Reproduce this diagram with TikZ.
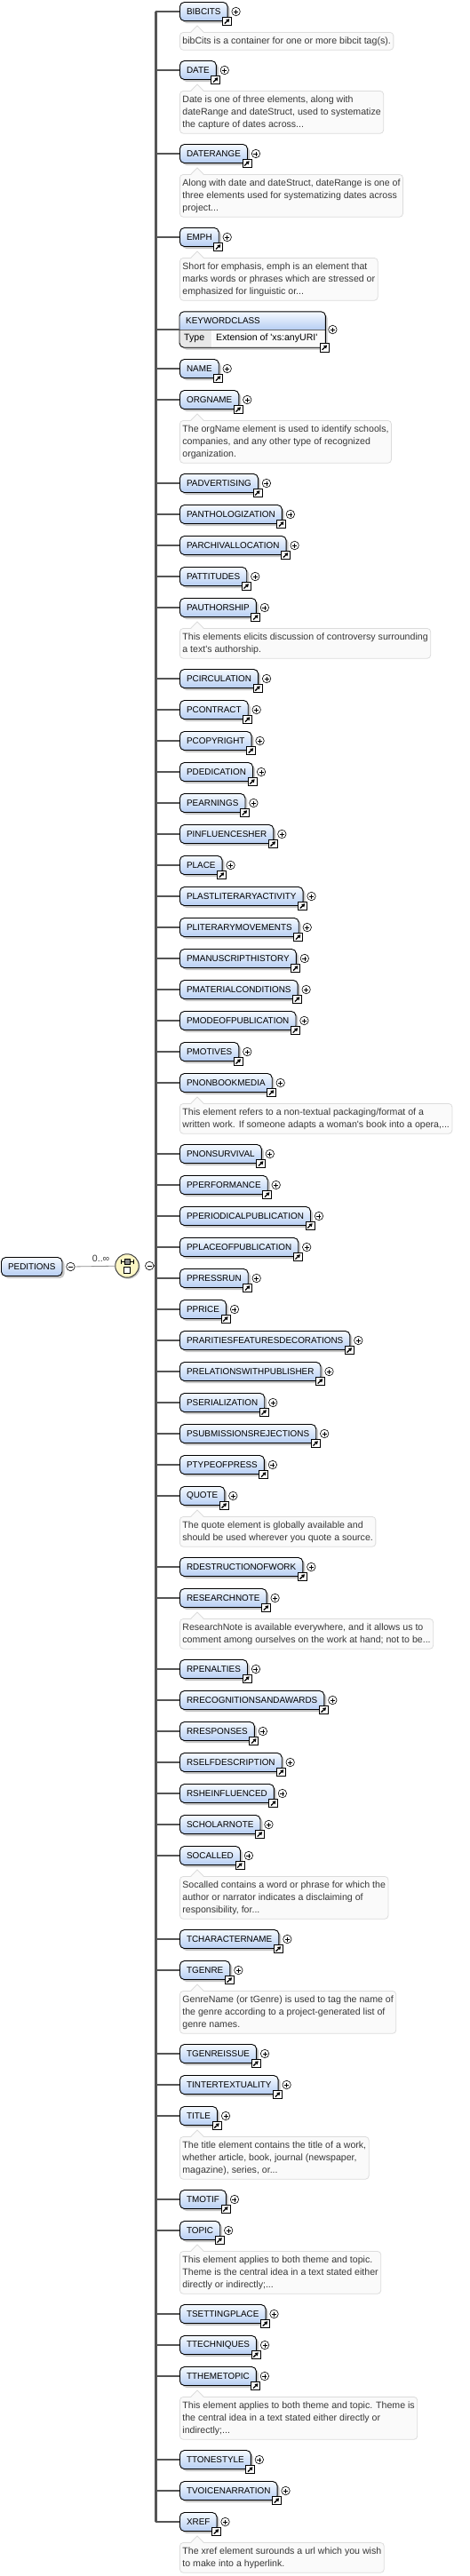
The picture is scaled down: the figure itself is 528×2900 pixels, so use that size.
\documentclass[tikz,border=0pt]{standalone}
\usepackage{fontspec}
\newfontfamily\lsans{Liberation Sans}
\usetikzlibrary{calc,shadows,arrows.meta}
\definecolor{eltop}{RGB}{246,250,255}
\definecolor{elbot}{RGB}{182,206,243}
\definecolor{annfill}{RGB}{250,250,250}
\definecolor{annline}{RGB}{220,220,220}
\definecolor{anntext}{RGB}{55,55,55}
\definecolor{barc}{RGB}{85,85,85}
\definecolor{seqfill}{RGB}{252,246,196}
\definecolor{typefill}{RGB}{232,232,232}
\newcommand\xEl[3]{%
  \node[elem] (#1) at (202,#2) {#3};
  \node[plusc] (#1p) at ($(#1.east)+(9,0)$) {};
  \node[sc] (#1s) at ($(#1.south east)+(-1,0)$) {};
  \draw[branch] (#1.west -| bartop) -- (#1.west);
}
\newcommand\xAnn[3]{%
  \node[ann] (#1a) at (202,#2+23) {#3};
  \fill[annfill] ($(#1a.north west)+(13,0.9)$) -- ($(#1a.north west)+(20,-7)$) -- ($(#1a.north west)+(27,0.9)$) -- cycle;
  \draw[annline,line width=0.8pt] ($(#1a.north west)+(13,0)$) -- ($(#1a.north west)+(20,-7)$) -- ($(#1a.north west)+(27,0)$);
}
\begin{document}
\begin{tikzpicture}[x=1pt,y=-1pt,
  elem/.style={draw=black, line width=0.9pt, rounded corners=5pt, top color=eltop, bottom color=elbot,
    minimum height=21pt, inner xsep=7.6pt, inner ysep=0pt, anchor=west,
    font=\lsans\fontsize{9.9}{12}\selectfont,
    drop shadow={shadow xshift=2.5pt, shadow yshift=-2.5pt, fill=black!22, opacity=1}},
  plusc/.style={circle, draw=black, line width=0.6pt, fill=white, minimum size=9.5pt, inner sep=0pt,
    path picture={\draw[line width=0.6pt] ($(path picture bounding box.center)+(-2.5pt,0pt)$) -- ($(path picture bounding box.center)+(2.5pt,0pt)$) ($(path picture bounding box.center)+(0pt,-2.5pt)$) -- ($(path picture bounding box.center)+(0pt,2.5pt)$);}},
  minusc/.style={circle, draw=black, line width=0.6pt, fill=white, minimum size=9.5pt, inner sep=0pt,
    path picture={\draw[line width=0.6pt] ($(path picture bounding box.center)+(-2.5pt,0pt)$) -- ($(path picture bounding box.center)+(2.5pt,0pt)$);}},
  sc/.style={draw=black, line width=0.8pt, fill=white, minimum width=10pt, minimum height=9.5pt, inner sep=0pt,
    path picture={\draw[line width=1.3pt, -{Triangle[length=3.5pt,width=4.2pt]}] ($(path picture bounding box.center)+(-2.8pt,-2.6pt)$) -- ($(path picture bounding box.center)+(2.7pt,2.7pt)$);}},
  branch/.style={draw=barc, line width=2pt},
  bar/.style={draw=barc, line width=3pt},
  ann/.style={draw=annline, line width=0.8pt, fill=annfill, rounded corners=4pt, anchor=north west, align=left,
    inner xsep=3pt, inner ysep=5pt, text=anntext, font=\lsans\fontsize{10.6}{14}\selectfont},
  lbl/.style={font=\lsans\fontsize{10.6}{12}\selectfont, text=anntext, inner sep=0pt},
]
\useasboundingbox (0,0) rectangle (528,2900);
\coordinate (bartop) at (175,13);
\coordinate (barbot) at (175,2839);

% root element and sequence
\node[elem] (ped) at (1,1426) {PEDITIONS};
\node[minusc] (pedm) at ($(ped.east)+(9,0)$) {};
\node[circle, draw=black!75, line width=1pt, fill=seqfill, minimum size=26.5pt, inner sep=0pt,
  drop shadow={shadow xshift=1.5pt, shadow yshift=-1.5pt, fill=black!20, opacity=1}] (seq) at (143,1425) {};
\draw[draw=black!45, line width=0.8pt] (pedm) -- (seq) node[lbl, pos=0.65, above=4pt] {0..∞};
\draw[line width=0.8pt] ($(seq.center)+(-7,-5)$) -- ($(seq.center)+(7,-5)$);
\draw[line width=0.8pt] ($(seq.center)+(-7,-7.5)$) -- ($(seq.center)+(-7,-2.5)$);
\draw[line width=0.8pt] ($(seq.center)+(7,-7.5)$) -- ($(seq.center)+(7,-2.5)$);
\filldraw[fill=black!45, draw=black, line width=0.6pt] ($(seq.center)+(-3,-8)$) rectangle ($(seq.center)+(3,-2)$);
\filldraw[fill=white, draw=black, line width=0.6pt] ($(seq.center)+(-3.5,1)$) rectangle ($(seq.center)+(3.5,8)$);
\node[minusc] (seqm) at ($(seq.east)+(11.5,0)$) {};
\draw[branch] (seqm) -- (seqm -| bartop);

\draw[bar] (bartop) -- (barbot);

\xEl{e1}{13}{BIBCITS}
\xAnn{e1}{13}{bibCits is a container for one or more bibcit tag(s).}
\xEl{e2}{79}{DATE}
\xAnn{e2}{79}{Date is one of three elements, along with\\dateRange and dateStruct, used to systematize\\the capture of dates across...}
\xEl{e3}{173}{DATERANGE}
\xAnn{e3}{173}{Along with date and dateStruct, dateRange is one of\\three elements used for systematizing dates across\\project...}
\xEl{e4}{267}{EMPH}
\xAnn{e4}{267}{Short for emphasis, emph is an element that\\marks words or phrases which are stressed or\\emphasized for linguistic or...}

% KEYWORDCLASS complex box
\node[minimum width=164pt, minimum height=40pt, anchor=west, inner sep=0pt, rounded corners=5pt, fill=white,
  drop shadow={shadow xshift=2.5pt, shadow yshift=-2.5pt, fill=black!22, opacity=1}] (kw) at (202,371) {};
\begin{scope}
  \clip[rounded corners=5pt] (kw.south west) rectangle (kw.north east);
  \shade[top color=eltop, bottom color=elbot] (kw.north west) rectangle (kw.east);
  \fill[typefill] (kw.west) rectangle ($(kw.south west)+(36,0)$);
  \fill[annfill] ($(kw.west)+(36,0)$) rectangle (kw.south east);
\end{scope}
\draw[line width=0.8pt, black!60] (kw.west) -- (kw.east);
\draw[line width=0.8pt, white] ($(kw.west)+(36,0.5)$) -- ($(kw.south west)+(36,-0.5)$);
\draw[line width=0.9pt, rounded corners=5pt] (kw.south west) rectangle (kw.north east);
\node[anchor=west, inner sep=0pt, font=\lsans\fontsize{9.9}{12}\selectfont] (kwt) at ($(kw.west)+(7,-10)$) {KEYWORDCLASS};
\node[anchor=west, inner sep=0pt, font=\lsans\fontsize{10.6}{12}\selectfont] (kwty) at ($(kw.west)+(5,10)$) {Type};
\node[anchor=west, inner sep=0pt, font=\lsans\fontsize{10.6}{12}\selectfont] (kwex) at ($(kw.west)+(41,10)$) {Extension of 'xs:anyURI'};
\node[plusc] (kwp) at ($(kw.east)+(8,0)$) {};
\node[sc] (kws) at ($(kw.south east)+(-1,0)$) {};
\draw[branch] (kw.west -| bartop) -- (kw.west);

\xEl{e6}{415}{NAME}
\xEl{e7}{450}{ORGNAME}
\xAnn{e7}{450}{The orgName element is used to identify schools,\\companies, and any other type of recognized\\organization.}
\xEl{e8}{544}{PADVERTISING}
\xEl{e9}{579}{PANTHOLOGIZATION}
\xEl{e10}{614}{PARCHIVALLOCATION}
\xEl{e11}{649}{PATTITUDES}
\xEl{e12}{684}{PAUTHORSHIP}
\xAnn{e12}{684}{This elements elicits discussion of controversy surrounding\\a text's authorship.}
\xEl{e13}{764}{PCIRCULATION}
\xEl{e14}{799}{PCONTRACT}
\xEl{e15}{834}{PCOPYRIGHT}
\xEl{e16}{869}{PDEDICATION}
\xEl{e17}{904}{PEARNINGS}
\xEl{e18}{939}{PINFLUENCESHER}
\xEl{e19}{974}{PLACE}
\xEl{e20}{1009}{PLASTLITERARYACTIVITY}
\xEl{e21}{1044}{PLITERARYMOVEMENTS}
\xEl{e22}{1079}{PMANUSCRIPTHISTORY}
\xEl{e23}{1114}{PMATERIALCONDITIONS}
\xEl{e24}{1149}{PMODEOFPUBLICATION}
\xEl{e25}{1184}{PMOTIVES}
\xEl{e26}{1219}{PNONBOOKMEDIA}
\xAnn{e26}{1219}{This element refers to a non-textual packaging/format of a\\written work. If someone adapts a woman's book into a opera,...}
\xEl{e27}{1299}{PNONSURVIVAL}
\xEl{e28}{1334}{PPERFORMANCE}
\xEl{e29}{1369}{PPERIODICALPUBLICATION}
\xEl{e30}{1404}{PPLACEOFPUBLICATION}
\xEl{e31}{1439}{PPRESSRUN}
\xEl{e32}{1474}{PPRICE}
\xEl{e33}{1509}{PRARITIESFEATURESDECORATIONS}
\xEl{e34}{1544}{PRELATIONSWITHPUBLISHER}
\xEl{e35}{1579}{PSERIALIZATION}
\xEl{e36}{1614}{PSUBMISSIONSREJECTIONS}
\xEl{e37}{1649}{PTYPEOFPRESS}
\xEl{e38}{1684}{QUOTE}
\xAnn{e38}{1684}{The quote element is globally available and\\should be used wherever you quote a source.}
\xEl{e39}{1764}{RDESTRUCTIONOFWORK}
\xEl{e40}{1799}{RESEARCHNOTE}
\xAnn{e40}{1799}{ResearchNote is available everywhere, and it allows us to\\comment among ourselves on the work at hand; not to be...}
\xEl{e41}{1879}{RPENALTIES}
\xEl{e42}{1914}{RRECOGNITIONSANDAWARDS}
\xEl{e43}{1949}{RRESPONSES}
\xEl{e44}{1984}{RSELFDESCRIPTION}
\xEl{e45}{2019}{RSHEINFLUENCED}
\xEl{e46}{2054}{SCHOLARNOTE}
\xEl{e47}{2089}{SOCALLED}
\xAnn{e47}{2089}{Socalled contains a word or phrase for which the\\author or narrator indicates a disclaiming of\\responsibility, for...}
\xEl{e48}{2183}{TCHARACTERNAME}
\xEl{e49}{2218}{TGENRE}
\xAnn{e49}{2218}{GenreName (or tGenre) is used to tag the name of\\the genre according to a project-generated list of\\genre names.}
\xEl{e50}{2312}{TGENREISSUE}
\xEl{e51}{2347}{TINTERTEXTUALITY}
\xEl{e52}{2382}{TITLE}
\xAnn{e52}{2382}{The title element contains the title of a work,\\whether article, book, journal (newspaper,\\magazine), series, or...}
\xEl{e53}{2476}{TMOTIF}
\xEl{e54}{2511}{TOPIC}
\xAnn{e54}{2511}{This element applies to both theme and topic.\\Theme is the central idea in a text stated either\\directly or indirectly;...}
\xEl{e55}{2605}{TSETTINGPLACE}
\xEl{e56}{2640}{TTECHNIQUES}
\xEl{e57}{2675}{TTHEMETOPIC}
\xAnn{e57}{2675}{This element applies to both theme and topic. Theme is\\the central idea in a text stated either directly or\\indirectly;...}
\xEl{e58}{2769}{TTONESTYLE}
\xEl{e59}{2804}{TVOICENARRATION}
\xEl{e60}{2839}{XREF}
\xAnn{e60}{2839}{The xref element surounds a url which you wish\\to make into a hyperlink.}
\end{tikzpicture}
\end{document}
